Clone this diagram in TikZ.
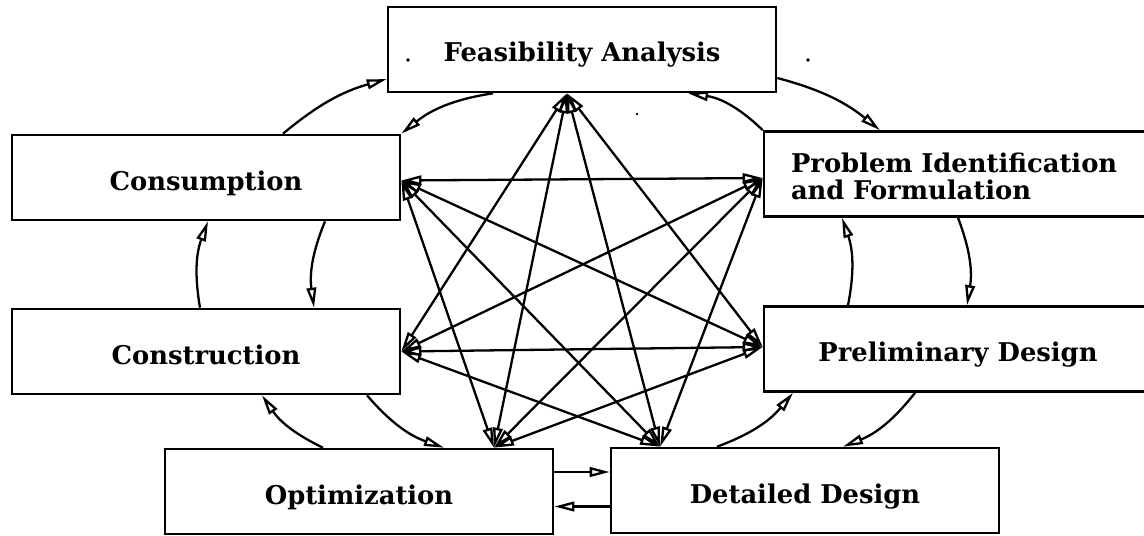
\documentclass[tikz,border=0pt]{standalone}
\usepackage{fontspec}
\setmainfont{DejaVu Serif}
\usetikzlibrary{arrows.meta}
\begin{document}
\begin{tikzpicture}[x=0.5pt,y=-0.5pt,
  box/.style={draw, line width=1.3pt, fill=white, minimum width=194pt,
    minimum height=42.5pt, inner sep=0pt, text height=12.5pt, text depth=0pt,
    font=\fontsize{12.9}{13.5}\selectfont\bfseries},
  link/.style={line width=1.15pt},
  outer/.style={link, ->, bend left=15},
  inner/.style={link, ->, bend right=15},
  cross/.style={link, <->},
  >={Triangle[open, length=10pt, width=4.8pt]}]
\useasboundingbox (0,0) rectangle (1144,535);
\clip (0,0) rectangle (1144,535);

% stage boxes
\node[box] (F)  at (582,49.5)  {Feasibility Analysis};
\node[box] (C)  at (206,177.5) {Consumption};
\node[box, text width=167pt, align=left, inner xsep=13.5pt,
      text height=12pt, text depth=14pt]
           (P)  at (958,174)   {Problem Identification\\and Formulation};
\node[box] (K)  at (206,351.5) {Construction};
\node[box] (R)  at (958,349)   {Preliminary Design};
\node[box] (O)  at (359,491.5) {Optimization};
\node[box] (D)  at (805,490.5) {Detailed Design};

% hubs of the crossing links
\coordinate (fh) at ([xshift=-7.5pt]F.south);
\coordinate (ch) at ([yshift=-1.5pt]C.east);
\coordinate (ph) at ([yshift=-2pt]P.west);
\coordinate (kh) at (K.east);
\coordinate (rh) at ([yshift=1pt]R.west);
\coordinate (oh) at ([xshift=67.5pt]O.north);
\coordinate (dh) at ([xshift=-72.5pt]D.north);

% crossing links between non-neighbouring stages
\foreach \a/\b in {fh/kh, fh/oh, fh/dh, fh/rh,
                   ch/ph, ch/rh, ch/oh, ch/dh,
                   ph/kh, ph/oh, ph/dh,
                   kh/rh, kh/dh,
                   rh/oh}
  \draw[cross] (\a) -- (\b);

% outer ring, clockwise
\draw[outer, bend left=12] ([yshift=-14.25pt]F.east) to ([xshift=-39pt]P.north);
\draw[outer] (P.south) to ([xshift=4.5pt]R.north);
\draw[outer] ([xshift=-21.5pt]R.south) to ([xshift=19pt]D.north);
\draw[link, ->] ([yshift=-8pt]D.west) -- ([yshift=-8pt]D.west -| O.east);
\draw[outer] ([xshift=-18pt]O.north) to ([xshift=28pt]K.south);
\draw[outer] ([xshift=-3pt]K.north) to ([xshift=1pt]C.south);
\draw[outer, bend left=12] ([xshift=38.5pt]C.north) to ([yshift=-14.75pt]F.west);

% inner ring, counter-clockwise
\draw[inner, bend right=18] (P.north west) to ([xshift=53pt]F.south);
\draw[inner] ([xshift=-44.5pt]F.south) to (C.north east);
\draw[inner] ([xshift=59.5pt]C.south) to ([xshift=54pt]K.north);
\draw[inner] ([xshift=80.5pt]K.south) to ([xshift=42.5pt]O.north);
\draw[link, ->] ([yshift=9.75pt]O.east) -- ([yshift=9.75pt]O.east -| D.west);
\draw[inner] ([xshift=-44pt]D.north) to ([xshift=-82.5pt]R.south);
\draw[inner] ([xshift=-55pt]R.north) to ([xshift=-58pt]P.south);

% specks
\fill (408,60) circle (0.9pt);
\fill (808,60) circle (0.9pt);
\fill (637,114) circle (0.7pt);
\end{tikzpicture}
\end{document}
